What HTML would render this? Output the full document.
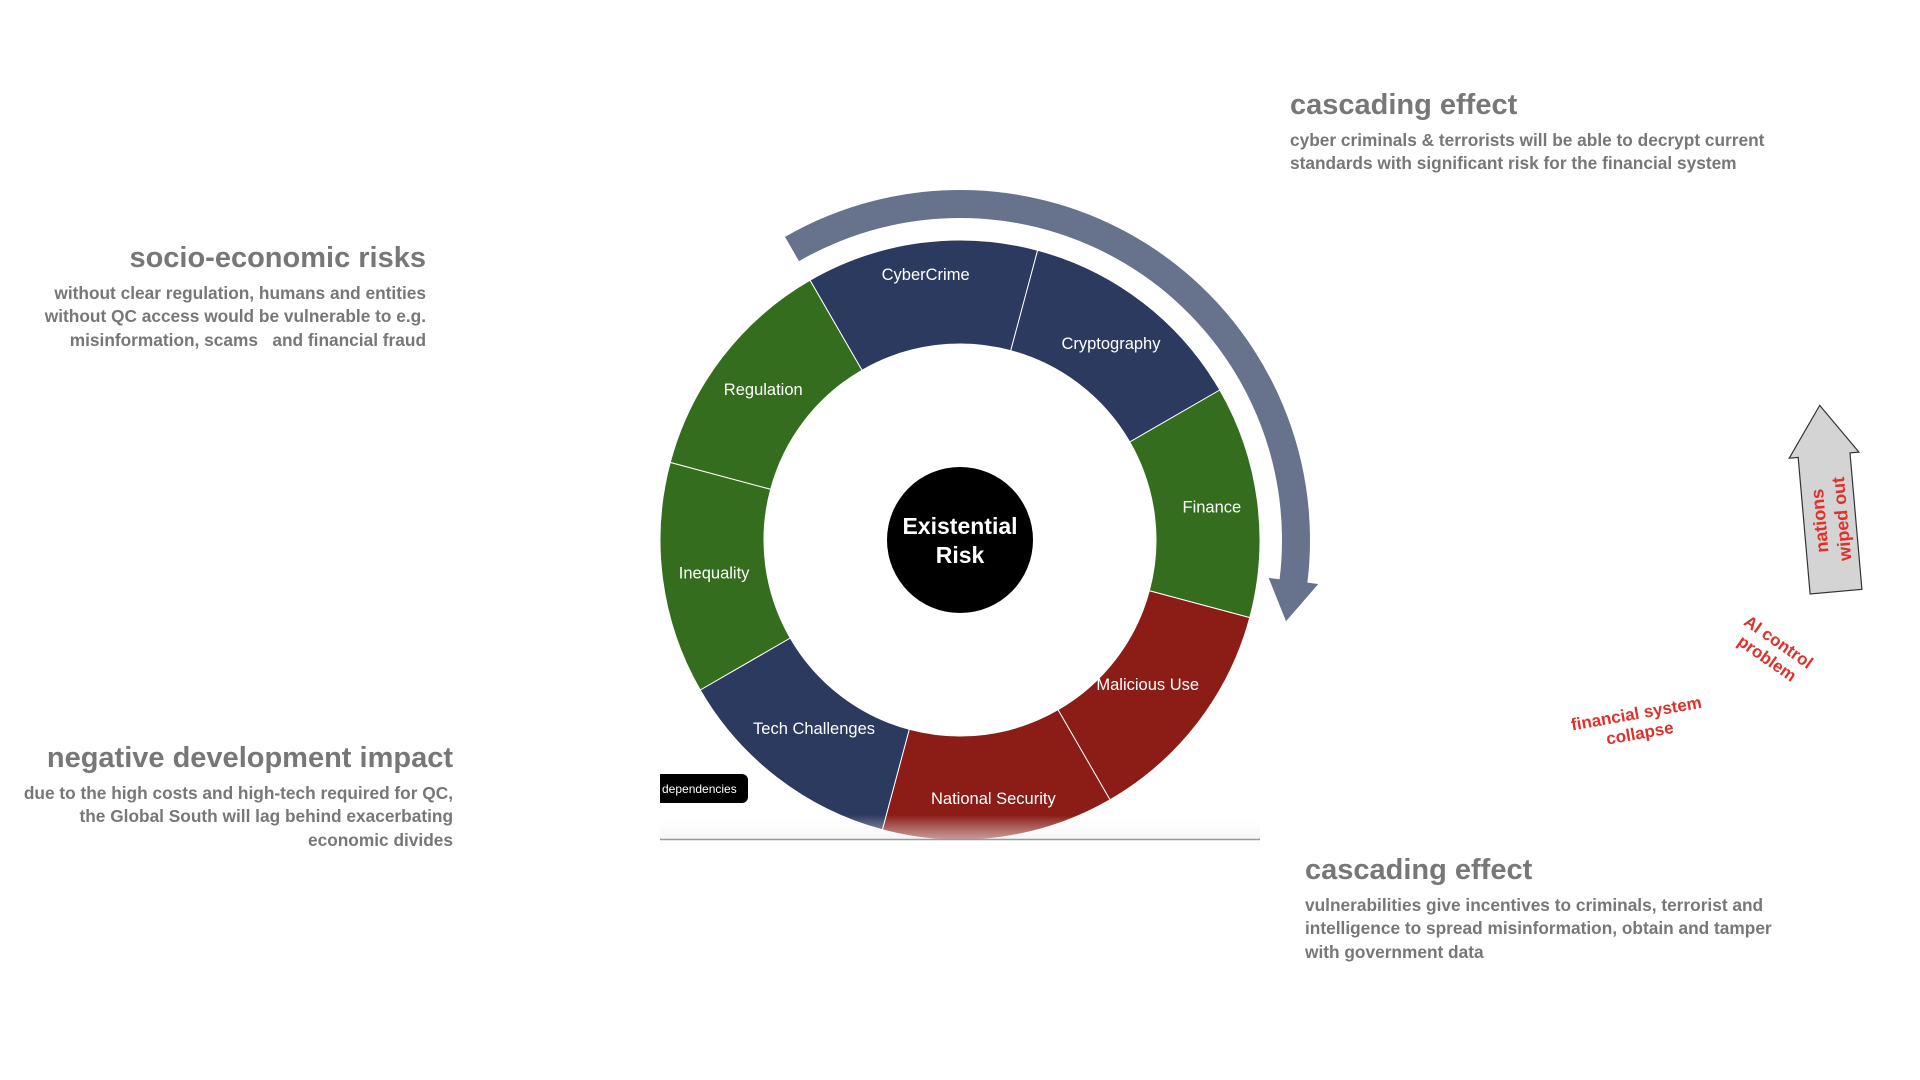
<!DOCTYPE html>
<html><head><meta charset="utf-8"><style>
html,body{margin:0;padding:0;background:#fff;}
svg{display:block;font-family:"Liberation Sans",Arial,sans-serif;}
</style></head><body>
<svg id="chart" width="1920" height="1080" viewBox="0 0 1920 1080">
<defs>
<clipPath id="clipDonut"><rect x="655" y="180" width="620" height="660"/></clipPath>
<linearGradient id="fade" x1="0" y1="0" x2="0" y2="1"><stop offset="0" stop-color="#fff" stop-opacity="0"/><stop offset="1" stop-color="#eee" stop-opacity="0.6"/></linearGradient>
</defs>
<g fill="#777" font-weight="bold">
<g text-anchor="end">
<text x="426" y="267" font-size="29">socio-economic risks</text>
<text x="426" y="299" font-size="17.3">without clear regulation, humans and entities</text>
<text x="426" y="322" font-size="17.3">without QC access would be vulnerable to e.g.</text>
<text x="426" y="346" font-size="17.3" xml:space="preserve">misinformation, scams   and financial fraud</text>
</g>
<g text-anchor="end">
<text x="453" y="767" font-size="29">negative development impact</text>
<text x="453" y="799" font-size="17.3">due to the high costs and high-tech required for QC,</text>
<text x="453" y="822" font-size="17.3">the Global South will lag behind exacerbating</text>
<text x="453" y="846" font-size="17.3">economic divides</text>
</g>
<g>
<text x="1290" y="114" font-size="29">cascading effect</text>
<text x="1290" y="146" font-size="17.3">cyber criminals &amp; terrorists will be able to decrypt current</text>
<text x="1290" y="169" font-size="17.3">standards with significant risk for the financial system</text>
</g>
<g>
<text x="1305" y="879" font-size="29">cascading effect</text>
<text x="1305" y="911" font-size="17.3">vulnerabilities give incentives to criminals, terrorist and</text>
<text x="1305" y="934" font-size="17.3">intelligence to spread misinformation, obtain and tamper</text>
<text x="1305" y="958" font-size="17.3">with government data</text>
</g>
</g>
<path id="cascade" fill="#67738c"/>
<g id="donut" clip-path="url(#clipDonut)"></g>
<rect x="660" y="815" width="600" height="24" fill="url(#fade)"/>
<line x1="660" y1="839.5" x2="1260" y2="839.5" stroke="#999" stroke-width="1.5"/>
<g>
<path d="M660 774 H742 a6 6 0 0 1 6 6 V797 a6 6 0 0 1 -6 6 H660 Z" fill="#000"/>
<text x="662" y="793" font-size="12" fill="#fff">dependencies</text>
</g>
<g>
<circle cx="960" cy="540" r="73" fill="#000"/>
<text x="960" y="534" font-size="23" font-weight="bold" fill="#fff" text-anchor="middle">Existential</text>
<text x="960" y="563" font-size="23" font-weight="bold" fill="#fff" text-anchor="middle">Risk</text>
</g>
<g transform="rotate(-5 1828 500)">
<path d="M1802 592 V455 H1793 L1828 405 L1863 455 H1854 V592 Z" fill="#d4d4d4" stroke="#333" stroke-width="1.2"/>
<g transform="translate(1830 520) rotate(-90)" fill="#e0302a" font-weight="bold" font-size="18" text-anchor="middle">
<text x="0" y="-6">nations</text><text x="0" y="16">wiped out</text>
</g>
</g>
<g transform="translate(1773 650) rotate(35)" fill="#e0302a" font-weight="bold" font-size="17" text-anchor="middle">
<text x="0" y="-4">AI control</text><text x="0" y="16">problem</text>
</g>
<g transform="translate(1638 723) rotate(-10)" fill="#e0302a" font-weight="bold" font-size="17" text-anchor="middle">
<text x="0" y="-4">financial system</text><text x="0" y="16">collapse</text>
</g>
</svg>
<script>
const categories = ["CyberCrime","Cryptography","Finance","Malicious Use","National Security","Tech Challenges","Inequality","Regulation"];
const weights = [1,1,1,1,1,1,1,1];
const groups = ["navy","navy","green","red","red","navy","green","green"];
const palette = {navy:"#2d3a5f", green:"#346d1e", red:"#8b1c16"};
const labelNudge = [[-2,-20],[0,0],[6,-1],[-9,-7],[1,12],[5,-9],[0,0],[0,0]];
const cx=960, cy=540, R=300, r=196, start=-30;
const NS="http://www.w3.org/2000/svg";
function pt(a,rad){const t=(a-90)*Math.PI/180;return [cx+rad*Math.cos(t),cy+rad*Math.sin(t)];}
const g=document.getElementById('donut');
const total=weights.reduce((a,b)=>a+b,0);
let a0=start;
categories.forEach((c,i)=>{
  const a1=a0+weights[i]/total*360;
  const p1=pt(a0,R),p2=pt(a1,R),p3=pt(a1,r),p4=pt(a0,r);
  const lg=(a1-a0)>180?1:0;
  const p=document.createElementNS(NS,'path');
  p.setAttribute('d',`M${p1} A${R} ${R} 0 ${lg} 1 ${p2} L${p3} A${r} ${r} 0 ${lg} 0 ${p4} Z`);
  p.setAttribute('fill',palette[groups[i]]);
  p.setAttribute('stroke','#fff');p.setAttribute('stroke-width','1');
  
  
  g.appendChild(p);
  const m=(a0+a1)/2, lp=pt(m,(R+r)/2);
  const n=labelNudge[i]||[0,0];
  const t=document.createElementNS(NS,'text');
  t.setAttribute('x',lp[0]+n[0]);t.setAttribute('y',lp[1]+6+n[1]);
  t.setAttribute('fill','#fff');t.setAttribute('font-size','16.5');t.setAttribute('text-anchor','middle');
  t.textContent=c;
  
  
  g.appendChild(t);
  a0=a1;
});
(function(){
  const ro=350, ri=322, s=-30, e=97, tip=104;
  const A=pt(s,ro),B=pt(e,ro),C=pt(e,ro+11),T=pt(tip,(ro+ri)/2),D=pt(e,ri-11),E=pt(e,ri),F=pt(s,ri);
  document.getElementById('cascade').setAttribute('d',`M${A} A${ro} ${ro} 0 0 1 ${B} L${C} L${T} L${D} L${E} A${ri} ${ri} 0 0 0 ${F} Z`);
})();
</script>
</body></html>
